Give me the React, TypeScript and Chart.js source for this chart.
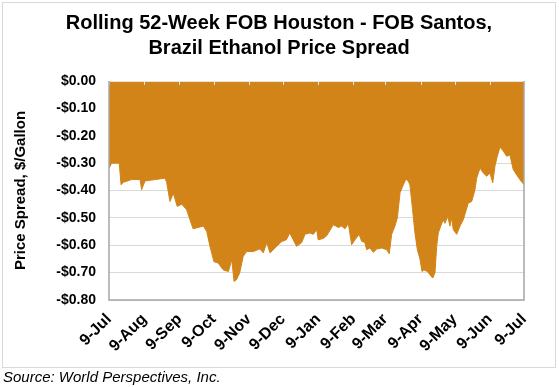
import React, { useEffect, useRef } from "react";
import { Chart, registerables } from "chart.js";

Chart.register(...registerables);

// Days since 9-Jul (start of the rolling 52-week window)
const dayOffsets = [
  0, 2.3, 9, 10.6, 12.6, 20, 27.3, 28.7, 31.7, 40.5, 49.3, 50.7, 53.6, 56.6, 60, 64, 68.3, 71.2, 74, 83,
  86, 88.8, 92.3, 96, 100.5, 105, 108, 110, 112.3, 115, 118, 121, 127, 132.8, 135.7, 138.7, 141.6, 147.5,
  152, 156, 159, 162, 165, 169.5, 172.4, 176.8, 179.7, 182.7, 184, 188.5, 191.5, 197.3, 201.7, 204.6,
  207.6, 210.5, 213.4, 216.4, 220, 222.2, 225, 226.6, 229.5, 232.5, 235.4, 239.8, 244.2, 246.5, 248.6,
  251.5, 253.6, 256, 258.9, 261.2, 263.3, 264.7, 267, 269.1, 271.2, 273.5, 275.3, 277, 280, 282.3, 284.7,
  286.7, 288.2, 289.6, 291.7, 294, 295.5, 297.9, 299.9, 301.4, 302.8, 305.8, 308.7, 311.6, 316, 319,
  321.9, 323.4, 326.3, 329.2, 332.2, 335.1, 337.5, 339.5, 341.5, 343.9, 346.8, 349.8, 352.7, 354.2,
  355.6, 358.6, 361.5, 365,
];

// FOB Houston - FOB Santos spread, $/gallon
const spreadValues = [
  -0.32, -0.3, -0.3, -0.379, -0.37, -0.36, -0.36, -0.397, -0.365, -0.36, -0.355, -0.37, -0.44, -0.41,
  -0.458, -0.45, -0.47, -0.507, -0.54, -0.53, -0.55, -0.604, -0.66, -0.665, -0.69, -0.696, -0.653, -0.732,
  -0.725, -0.7, -0.641, -0.623, -0.623, -0.613, -0.628, -0.59, -0.628, -0.604, -0.586, -0.58, -0.555,
  -0.58, -0.604, -0.59, -0.56, -0.555, -0.56, -0.543, -0.58, -0.575, -0.565, -0.525, -0.535, -0.53,
  -0.54, -0.521, -0.598, -0.58, -0.56, -0.585, -0.59, -0.616, -0.61, -0.626, -0.614, -0.61, -0.616,
  -0.631, -0.56, -0.53, -0.5, -0.408, -0.379, -0.358, -0.367, -0.38, -0.47, -0.555, -0.616, -0.65,
  -0.696, -0.69, -0.696, -0.708, -0.72, -0.7, -0.604, -0.555, -0.531, -0.507, -0.52, -0.495, -0.53,
  -0.5, -0.543, -0.56, -0.53, -0.507, -0.446, -0.44, -0.397, -0.354, -0.318, -0.336, -0.348, -0.336,
  -0.372, -0.31, -0.275, -0.241, -0.256, -0.275, -0.27, -0.3, -0.324, -0.343, -0.361, -0.379,
];

const monthTickDays = [0, 31, 62, 92, 123, 153, 184, 215, 243, 274, 304, 335, 365];
const monthTickLabels = [
  "9-Jul", "9-Aug", "9-Sep", "9-Oct", "9-Nov", "9-Dec", "9-Jan",
  "9-Feb", "9-Mar", "9-Apr", "9-May", "9-Jun", "9-Jul",
];

const titleLines = ["Rolling 52-Week FOB Houston - FOB Santos,", "Brazil Ethanol Price Spread"];
const yAxisTitle = "Price Spread, $/Gallon";
const sourceText = "Source: World Perspectives, Inc.";

const ORANGE = "#D38418";
const FONT = "'Liberation Sans', Arial, sans-serif";

function fmtDollar(v: number) {
  const r = Math.round(v * 100) / 100;
  const s = "$" + Math.abs(r).toFixed(2);
  return r < 0 ? "-" + s : s;
}

const decorPlugin = {
  id: "decor",
  beforeDraw(chart: any) {
    const ctx = chart.ctx;
    ctx.save();
    ctx.fillStyle = "#ffffff";
    ctx.fillRect(0, 0, chart.width, chart.height);
    ctx.strokeStyle = "#d9d9d9";
    ctx.lineWidth = 1;
    ctx.strokeRect(2.5, 2.5, 553, 365);
    ctx.fillStyle = "#000";
    ctx.font = "bold 20px " + FONT;
    ctx.textAlign = "center";
    ctx.textBaseline = "alphabetic";
    ctx.fillText(titleLines[0], 279, 29);
    ctx.fillText(titleLines[1], 279, 54);
    ctx.font = "italic 15px " + FONT;
    ctx.textAlign = "left";
    ctx.fillText(sourceText, 3, 382);
    ctx.restore();
  },
  afterDatasetsDraw(chart: any) {
    const ctx = chart.ctx;
    const a = chart.chartArea;
    const xs = chart.scales.x;
    ctx.save();
    ctx.lineWidth = 1;
    ctx.strokeStyle = "#e4e4e4";
    ctx.beginPath();
    ctx.moveTo(a.left, Math.round(a.top) + 0.5);
    ctx.lineTo(a.right, Math.round(a.top) + 0.5);
    for (const d of monthTickDays) {
      const x = Math.round(xs.getPixelForValue(d)) + 0.5;
      ctx.moveTo(x, a.top);
      ctx.lineTo(x, a.top + 4);
    }
    ctx.stroke();
    ctx.strokeStyle = "#a6a6a6";
    ctx.lineWidth = 1.5;
    ctx.beginPath();
    ctx.moveTo(a.left, a.top);
    ctx.lineTo(a.left, a.bottom);
    ctx.lineTo(a.right, a.bottom);
    ctx.lineTo(a.right, a.top);
    ctx.stroke();
    ctx.restore();
  },
};

export default function App() {
  const canvasRef = useRef<HTMLCanvasElement | null>(null);

  useEffect(() => {
    if (!canvasRef.current) return;
    const points = dayOffsets.map((d, i) => ({ x: d, y: spreadValues[i] }));
    const chart = new Chart(canvasRef.current, {
      type: "line",
      data: {
        datasets: [
          {
            data: points,
            borderColor: ORANGE,
            borderWidth: 1,
            backgroundColor: ORANGE,
            fill: "origin",
            pointRadius: 0,
            tension: 0,
          },
        ],
      },
      options: {
        animation: false,
        responsive: false,
        devicePixelRatio: 1,
        layout: { padding: { top: 81, right: 35, left: 0, bottom: 0 } },
        plugins: {
          legend: { display: false },
          title: { display: false },
          tooltip: { enabled: false },
        },
        scales: {
          x: {
            type: "linear",
            min: 0,
            max: 365,
            afterBuildTicks: (scale: any) => {
              scale.ticks = monthTickDays.map((v) => ({ value: v }));
            },
            afterFit: (scale: any) => {
              scale.height = 87;
            },
            grid: { display: false, drawTicks: false },
            border: { display: false },
            ticks: {
              autoSkip: false,
              minRotation: 45,
              maxRotation: 45,
              padding: 10,
              color: "#000",
              font: { family: FONT, size: 16, weight: "bold" },
              callback: (v: any) => {
                const i = monthTickDays.indexOf(Number(v));
                return i >= 0 ? monthTickLabels[i] : "";
              },
            },
          },
          y: {
            min: -0.8,
            max: 0,
            afterFit: (scale: any) => {
              scale.width = 109;
            },
            grid: { color: "#d9d9d9", lineWidth: 1, drawTicks: false },
            border: { display: false },
            ticks: {
              stepSize: 0.1,
              padding: 13,
              color: "#000",
              font: { family: FONT, size: 14, weight: "bold" },
              callback: (v: any) => fmtDollar(Number(v)),
            },
            title: {
              display: true,
              text: yAxisTitle,
              color: "#000",
              padding: { top: 12, bottom: 0 },
              font: { family: FONT, size: 15, weight: "bold" },
            },
          },
        },
      },
      plugins: [decorPlugin],
    });
    return () => chart.destroy();
  }, []);

  return (
    <div style={{ position: "fixed", left: 0, top: 0, width: 559, height: 387, background: "#fff" }}>
      <canvas ref={canvasRef} width={559} height={387} style={{ width: 559, height: 387, display: "block" }} />
    </div>
  );
}
